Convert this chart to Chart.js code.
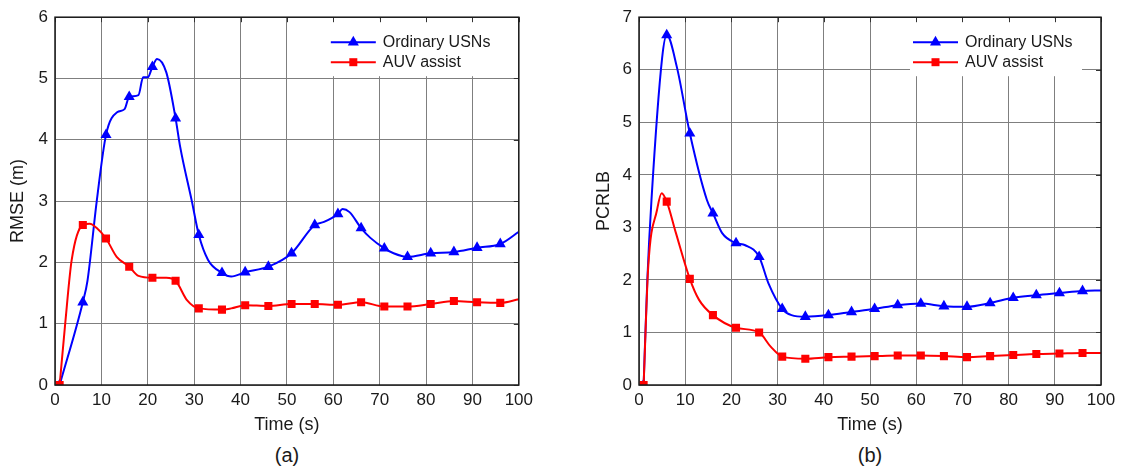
<!DOCTYPE html>
<html>
<head>
<meta charset="utf-8">
<script src="https://cdn.jsdelivr.net/npm/chart.js@4.4.0/dist/chart.umd.min.js"></script>
<style>
  body { margin: 0; background: #fff; }
  #wrap { position: relative; width: 1121px; height: 470px; font-family: 'Liberation Sans', Arial, sans-serif; }
  canvas { position: absolute; top: 0; }
  .cap { position: absolute; top: 443px; width: 60px; font-size: 20px; line-height: 24px; text-align: center; color: #1a1a1a; }
</style>
</head>
<body>
<div id="wrap">
  <canvas id="rmseChart" width="538" height="440" style="left:0"></canvas>
  <canvas id="pcrlbChart" width="561" height="440" style="left:560px"></canvas>
  <div class="cap" style="left:257px">(a)</div>
  <div class="cap" style="left:840px">(b)</div>
</div>
<script>
// markers are drawn every 5 s
var markerTimes = [1, 6, 11, 16, 21, 26, 31, 36, 41, 46, 51, 56, 61, 66, 71, 76, 81, 86, 91, 96];

// (a) RMSE
var rmseUsnT = [1, 6, 7, 9, 11, 13.4, 15, 16, 18, 19, 20, 21, 22, 24, 26, 27, 29.5, 31, 33, 36, 38, 41, 46, 51, 56, 58, 61, 62, 63.5, 66, 68, 71, 73, 76, 81, 86, 91, 96, 100];
var rmseUsnV = [0, 1.35, 1.7, 3.0, 4.08, 4.45, 4.5, 4.7, 4.73, 5.02, 5.02, 5.19, 5.32, 5.1, 4.35, 3.88, 3.0, 2.45, 2.04, 1.83, 1.77, 1.84, 1.93, 2.15, 2.61, 2.66, 2.79, 2.87, 2.82, 2.56, 2.4, 2.23, 2.15, 2.09, 2.15, 2.17, 2.24, 2.3, 2.5];
var rmseAuvT = [1, 2.2, 3.6, 6, 7.5, 9, 11, 13.3, 16, 18, 21, 24, 26, 28.5, 31, 36, 38, 41, 46, 51, 56, 61, 66, 71, 76, 81, 86, 91, 96, 100];
var rmseAuvV = [0, 1.0, 2.04, 2.61, 2.63, 2.56, 2.39, 2.09, 1.93, 1.78, 1.75, 1.75, 1.7, 1.38, 1.25, 1.23, 1.25, 1.3, 1.29, 1.32, 1.32, 1.31, 1.35, 1.28, 1.28, 1.32, 1.37, 1.35, 1.34, 1.4];

// (b) PCRLB
var pcrlbUsnT = [1, 1.8, 2.7, 5, 6, 8.2, 11, 14.7, 16, 18, 21, 23, 26, 28, 31, 33, 36, 41, 46, 51, 56, 61, 66, 71, 76, 81, 86, 91, 96, 100];
var pcrlbUsnV = [0, 2.0, 3.52, 6.22, 6.66, 6.05, 4.79, 3.52, 3.27, 2.89, 2.7, 2.66, 2.44, 1.94, 1.45, 1.33, 1.3, 1.33, 1.39, 1.45, 1.52, 1.55, 1.5, 1.49, 1.56, 1.66, 1.71, 1.75, 1.79, 1.8];
var pcrlbAuvT = [1, 2, 3.9, 4.9, 6, 8, 11, 13, 16, 21, 26, 28.5, 31, 36, 41, 46, 51, 56, 61, 66, 71, 76, 81, 86, 91, 96, 100];
var pcrlbAuvV = [0, 2.25, 3.33, 3.65, 3.49, 2.89, 2.02, 1.62, 1.33, 1.09, 1.0, 0.73, 0.54, 0.5, 0.53, 0.54, 0.55, 0.56, 0.56, 0.55, 0.53, 0.55, 0.57, 0.59, 0.6, 0.61, 0.61];

var labels = ['Ordinary USNs', 'AUV assist'];
var xTicks = { min: 0, max: 100, step: 10 };

function pairs(t, v) {
  return t.map(function (x, i) { return { x: x, y: v[i] }; });
}

function markerRadius(r) {
  return function (ctx) {
    return ctx.raw && markerTimes.indexOf(ctx.raw.x) >= 0 ? r : 0;
  };
}

function drawMarker(ctx, style, x, y) {
  ctx.beginPath();
  if (style === 'triangle') {
    var r = 6.4;
    ctx.moveTo(x, y - r);
    ctx.lineTo(x + r * 0.866, y + r / 2);
    ctx.lineTo(x - r * 0.866, y + r / 2);
    ctx.closePath();
  } else {
    ctx.rect(x - 4, y - 4, 8, 8);
  }
  ctx.fill();
}

// matlab look: black box, inward ticks, legend inside the plot
var boxPlugin = {
  id: 'matlabBox',
  afterDraw: function (chart) {
    var ctx = chart.ctx, a = chart.chartArea;
    var xs = chart.scales.x, ys = chart.scales.y;
    var lx = a.right - 191, ly = a.top;
    ctx.save();
    ctx.fillStyle = '#fff';
    ctx.fillRect(lx, ly + 1, 172, 58);

    ctx.strokeStyle = '#333';
    ctx.lineWidth = 1;
    ctx.beginPath();
    xs.ticks.forEach(function (t) {
      var px = Math.round(xs.getPixelForValue(t.value)) + 0.5;
      ctx.moveTo(px, a.top); ctx.lineTo(px, a.top + 5);
    });
    ys.ticks.forEach(function (t) {
      var py = Math.round(ys.getPixelForValue(t.value)) + 0.5;
      ctx.moveTo(a.right, py); ctx.lineTo(a.right - 5, py);
    });
    ctx.stroke();

    ctx.strokeStyle = '#1a1a1a';
    ctx.lineWidth = 1.5;
    ctx.strokeRect(a.left, a.top, a.right - a.left, a.bottom - a.top);

    chart.data.datasets.forEach(function (ds, i) {
      var y = ly + 25 + i * 20;
      ctx.strokeStyle = ds.borderColor;
      ctx.lineWidth = 2;
      ctx.beginPath();
      ctx.moveTo(lx + 3, y); ctx.lineTo(lx + 48, y);
      ctx.stroke();
      ctx.fillStyle = ds.borderColor;
      drawMarker(ctx, ds.pointStyle, lx + 25.5, y);
      ctx.fillStyle = '#1a1a1a';
      ctx.font = '16px "Liberation Sans", Arial, sans-serif';
      ctx.textBaseline = 'middle';
      ctx.textAlign = 'left';
      ctx.fillText(ds.label, lx + 55, y);
    });
    ctx.restore();
  }
};

function makeChart(id, usn, auv, yMax, yTitle, yWidth, rightPad, titlePad) {
  var font = { family: '"Liberation Sans", Arial, sans-serif' };
  return new Chart(document.getElementById(id), {
    type: 'line',
    data: {
      datasets: [
        {
          label: labels[0], data: usn, borderColor: '#0000ff', backgroundColor: '#0000ff',
          borderWidth: 2, pointStyle: 'triangle', pointRadius: markerRadius(6.4),
          pointBorderWidth: 0, cubicInterpolationMode: 'monotone', order: 1
        },
        {
          label: labels[1], data: auv, borderColor: '#ff0000', backgroundColor: '#ff0000',
          borderWidth: 2, pointStyle: 'rect', pointRadius: markerRadius(5.7),
          pointBorderWidth: 0, cubicInterpolationMode: 'monotone', order: 0
        }
      ]
    },
    options: {
      responsive: false,
      animation: false,
      devicePixelRatio: 1,
      layout: { padding: { top: 17, right: rightPad, left: 0, bottom: 0 } },
      plugins: { legend: { display: false }, tooltip: { enabled: false } },
      scales: {
        x: {
          type: 'linear', min: xTicks.min, max: xTicks.max,
          ticks: { stepSize: xTicks.step, padding: 5, color: '#1a1a1a', maxRotation: 0, font: Object.assign({ size: 17 }, font) },
          grid: { color: '#7f7f7f', lineWidth: 1, drawTicks: false },
          border: { display: false },
          title: { display: true, text: 'Time (s)', color: '#1a1a1a', padding: { top: 0, bottom: 4 }, font: Object.assign({ size: 18 }, font) },
          afterFit: function (s) { s.height = 55; }
        },
        y: {
          min: 0, max: yMax,
          ticks: { stepSize: 1, padding: 7, color: '#1a1a1a', font: Object.assign({ size: 17 }, font) },
          grid: { color: '#7f7f7f', lineWidth: 1, drawTicks: false },
          border: { display: false },
          title: { display: true, text: yTitle, color: '#1a1a1a', padding: { top: titlePad, bottom: 0 }, font: Object.assign({ size: 18 }, font) },
          afterFit: function (s) { s.width = yWidth; }
        }
      }
    },
    plugins: [boxPlugin]
  });
}

makeChart('rmseChart', pairs(rmseUsnT, rmseUsnV), pairs(rmseAuvT, rmseAuvV), 6, 'RMSE (m)', 55, 12, 7);
makeChart('pcrlbChart', pairs(pcrlbUsnT, pcrlbUsnV), pairs(pcrlbAuvT, pcrlbAuvV), 7, 'PCRLB', 79, 20, 33);
</script>
</body>
</html>
